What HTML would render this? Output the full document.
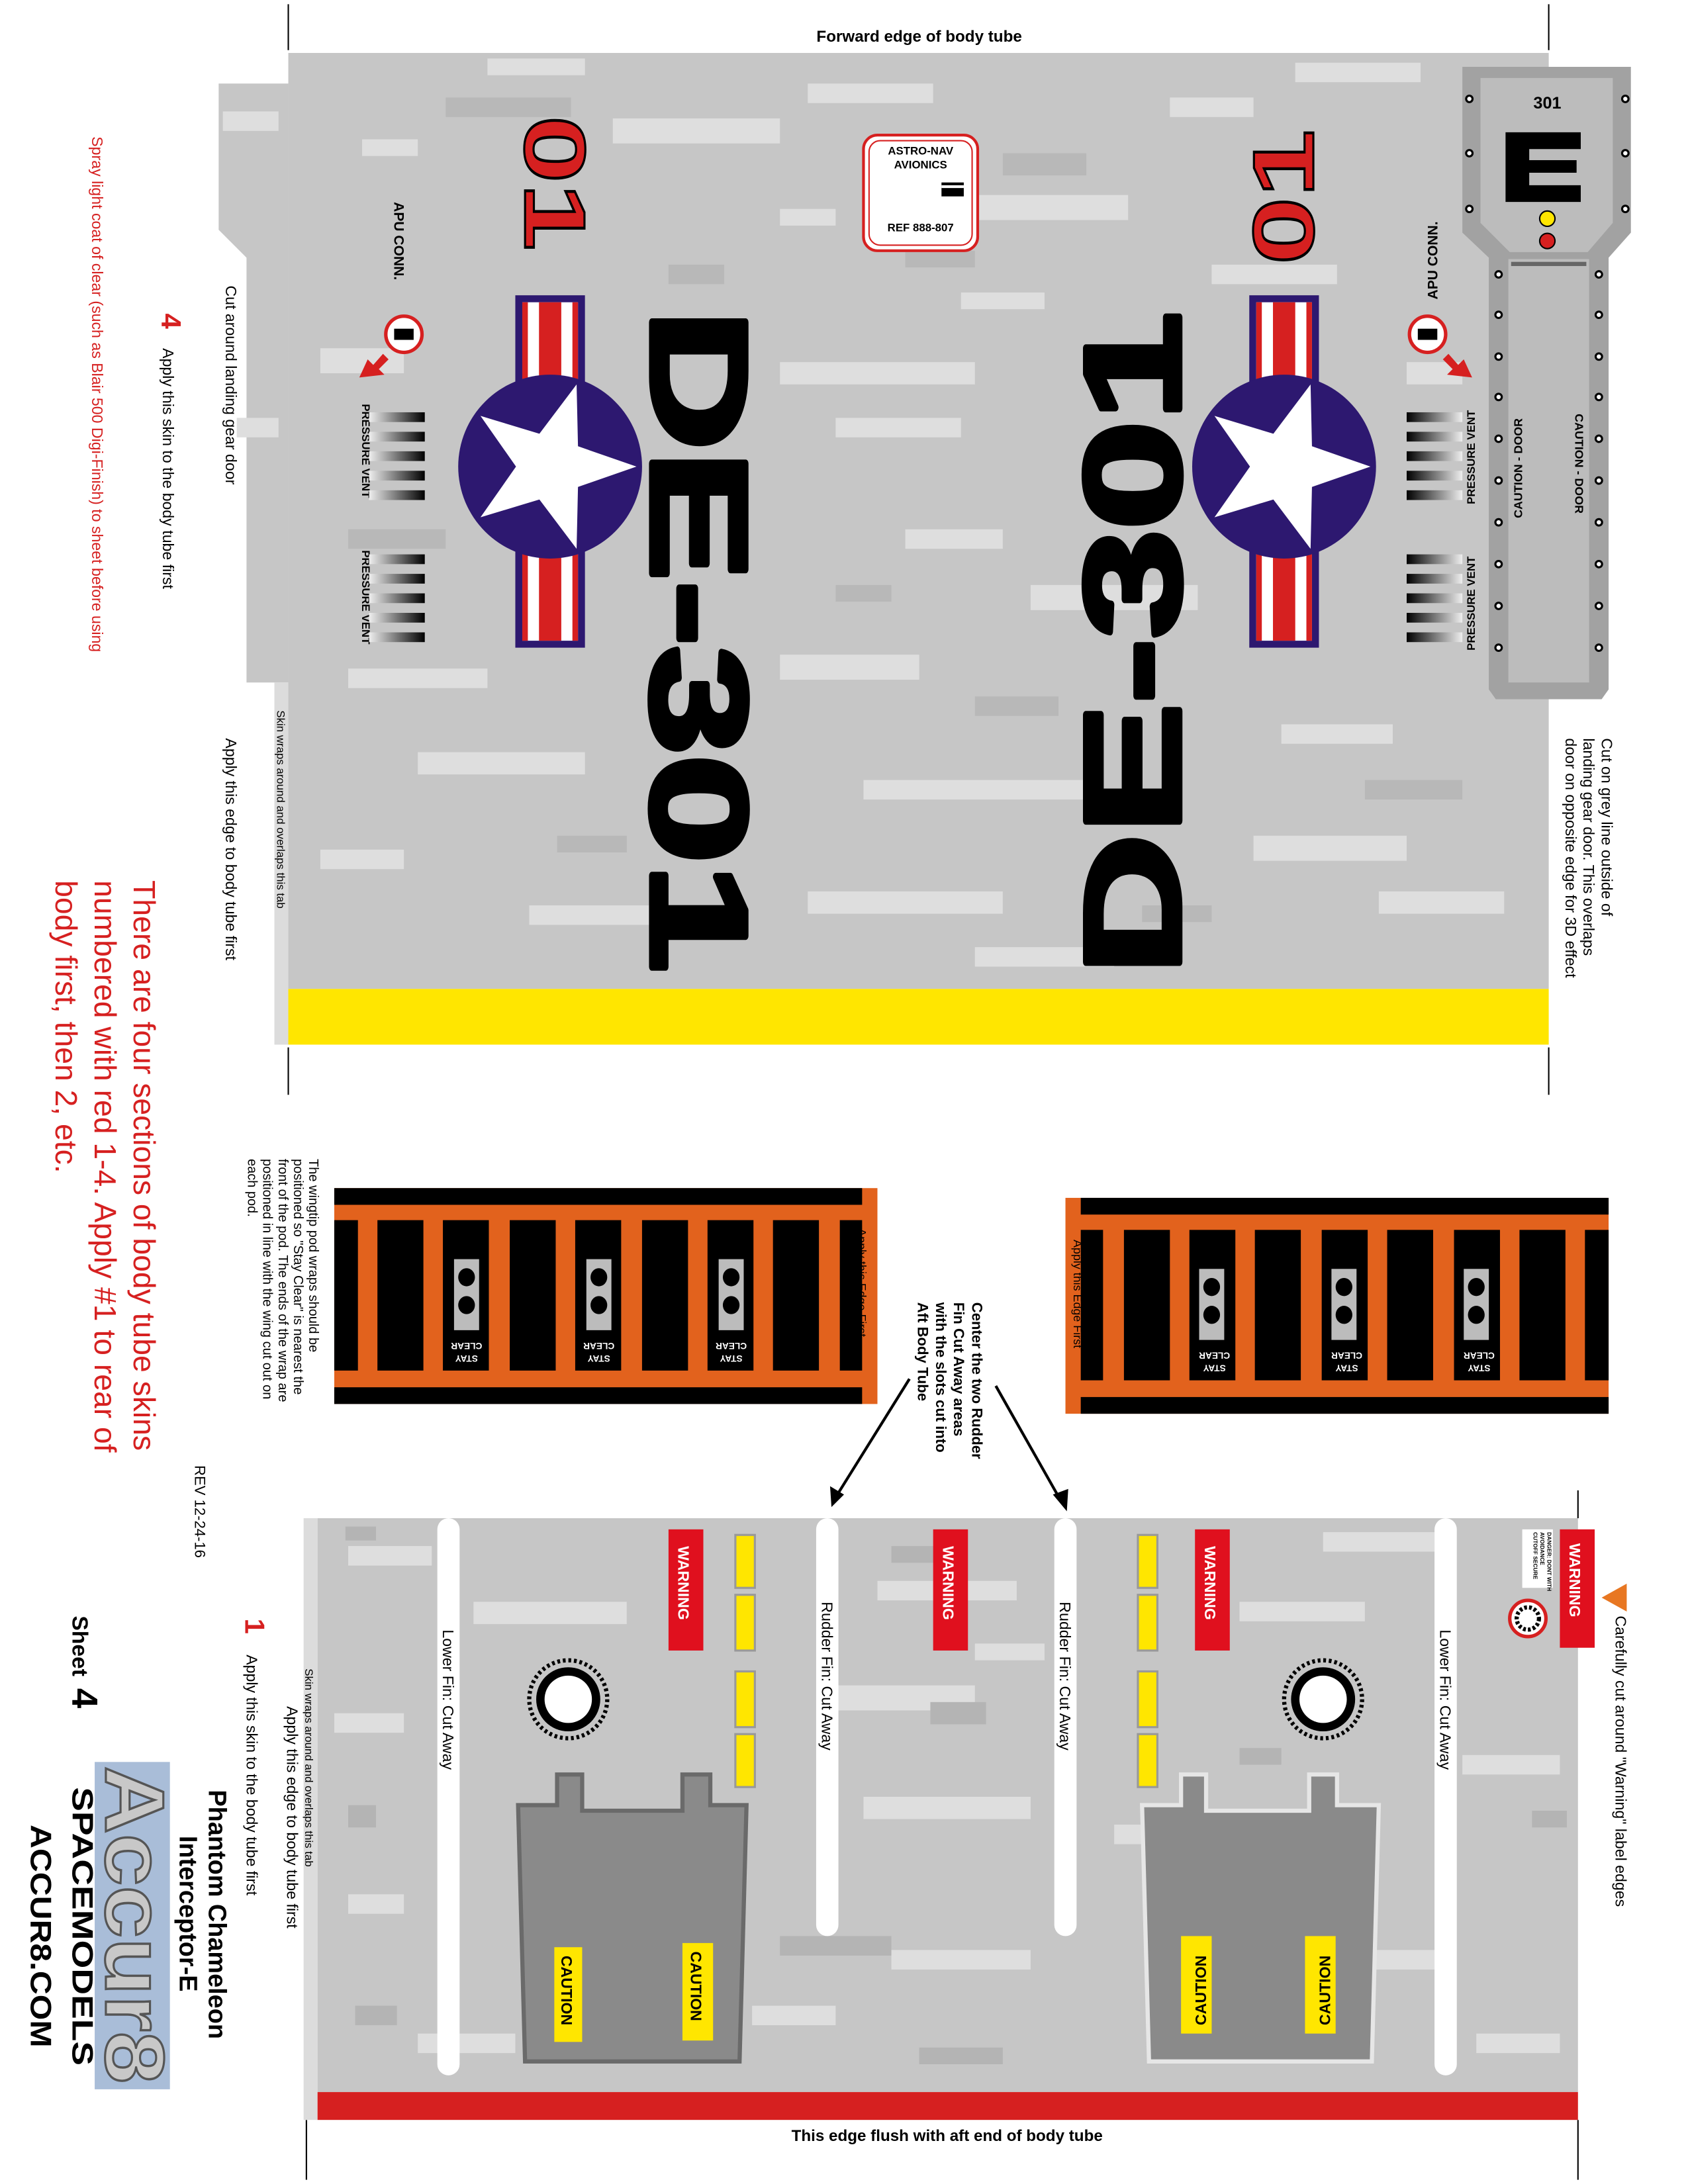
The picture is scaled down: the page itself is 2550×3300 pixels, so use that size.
<!DOCTYPE html>
<html><head><meta charset="utf-8"><style>
html,body{margin:0;padding:0;background:#fff}
svg{display:block}
text{font-family:"Liberation Sans",sans-serif}
</style></head><body>
<svg width="2550" height="3300" viewBox="0 0 1212 1568" preserveAspectRatio="none" xmlns="http://www.w3.org/2000/svg">
<defs>
<linearGradient id="vg" x1="0" x2="1" y1="0" y2="0"><stop offset="0" stop-color="#eee"/><stop offset="1" stop-color="#000"/></linearGradient>
<g id="pod">
<rect x="0" y="0" width="390" height="155" fill="#e2621d"/>
<rect x="0" y="0" width="379" height="12" fill="#000"/>
<rect x="0" y="143" width="379" height="12" fill="#000"/>
<rect x="0" y="23" width="17" height="108" fill="#000"/>
<rect x="31" y="23" width="33" height="108" fill="#000"/>
<rect x="78" y="23" width="33" height="108" fill="#000"/>
<rect x="126" y="23" width="33" height="108" fill="#000"/>
<rect x="173" y="23" width="33" height="108" fill="#000"/>
<rect x="221" y="23" width="33" height="108" fill="#000"/>
<rect x="268" y="23" width="33" height="108" fill="#000"/>
<rect x="315" y="23" width="33" height="108" fill="#000"/>
<rect x="363" y="23" width="16" height="108" fill="#000"/>
<g fill="#bcbcbc"><rect x="86" y="51" width="18" height="51"/><rect x="181" y="51" width="18" height="51"/><rect x="276" y="51" width="18" height="51"/></g>
<g fill="#000"><ellipse cx="95" cy="64" rx="6" ry="6.5"/><ellipse cx="95" cy="84" rx="6" ry="6.5"/><ellipse cx="190" cy="64" rx="6" ry="6.5"/><ellipse cx="190" cy="84" rx="6" ry="6.5"/><ellipse cx="285" cy="64" rx="6" ry="6.5"/><ellipse cx="285" cy="84" rx="6" ry="6.5"/></g>
</g>
<g id="vent"><rect x="0" y="0" width="40" height="7" fill="url(#vg)"/><rect x="0" y="14" width="40" height="7" fill="url(#vg)"/><rect x="0" y="28" width="40" height="7" fill="url(#vg)"/><rect x="0" y="42" width="40" height="7" fill="url(#vg)"/><rect x="0" y="56" width="40" height="7" fill="url(#vg)"/></g>
<g id="roundel">
<rect x="-25" y="-123" width="50" height="253" fill="#2d1870"/>
<rect x="-20" y="-118" width="40" height="243" fill="#fff"/>
<rect x="-8" y="-118" width="16" height="243" fill="#d62020"/>
<rect x="-20" y="-118" width="4" height="243" fill="#d62020"/>
<rect x="16" y="-118" width="4" height="243" fill="#d62020"/>
<circle r="66" fill="#2d1870"/>
<polygon fill="#fff" points="0,-62 14.6,-20 59,-19 23.6,7.7 36.4,50 0,24.5 -36.4,50 -23.6,7.7 -59,-19 -14.6,-20" transform="rotate(90)"/>
</g>
</defs>

<g stroke="#000" stroke-width="1">
<line x1="207" y1="3" x2="207" y2="36"/><line x1="1112" y1="3" x2="1112" y2="36"/>
<line x1="207" y1="752" x2="207" y2="786"/><line x1="1112" y1="752" x2="1112" y2="786"/>
</g>
<text x="660" y="30" font-size="11.5" font-weight="bold" text-anchor="middle">Forward edge of body tube</text>
<polygon points="157,60 207,60 207,490 177,490 177,185 157,165" fill="#c6c6c6"/>
<rect x="197" y="490" width="10" height="260" fill="#dcdcdc"/>
<rect x="207" y="38" width="905" height="672" fill="#c6c6c6"/>
<g fill="#dedede">
<rect x="440" y="85" width="120" height="18"/><rect x="580" y="60" width="90" height="14"/><rect x="260" y="100" width="40" height="12"/><rect x="700" y="140" width="110" height="18"/><rect x="840" y="70" width="60" height="14"/><rect x="230" y="250" width="60" height="18"/><rect x="560" y="260" width="140" height="16"/><rect x="600" y="300" width="90" height="14"/><rect x="740" y="420" width="120" height="18"/><rect x="250" y="480" width="100" height="14"/><rect x="300" y="540" width="120" height="16"/><rect x="560" y="470" width="100" height="18"/><rect x="620" y="560" width="160" height="14"/><rect x="230" y="610" width="60" height="14"/><rect x="580" y="640" width="140" height="16"/><rect x="900" y="600" width="110" height="18"/><rect x="920" y="520" width="80" height="14"/><rect x="1010" y="260" width="40" height="16"/><rect x="870" y="190" width="90" height="14"/><rect x="350" y="42" width="70" height="12"/><rect x="650" y="380" width="70" height="14"/><rect x="380" y="650" width="90" height="14"/><rect x="690" y="210" width="60" height="12"/><rect x="990" y="640" width="90" height="16"/><rect x="930" y="45" width="90" height="14"/><rect x="160" y="80" width="40" height="14"/><rect x="170" y="300" width="30" height="14"/><rect x="560" y="150" width="40" height="12"/><rect x="700" y="680" width="100" height="14"/>
</g>
<g fill="#b8b8b8">
<rect x="320" y="70" width="90" height="14"/><rect x="720" y="110" width="60" height="16"/><rect x="480" y="190" width="40" height="14"/><rect x="650" y="180" width="50" height="12"/><rect x="250" y="380" width="70" height="14"/><rect x="700" y="500" width="60" height="14"/><rect x="820" y="650" width="50" height="12"/><rect x="600" y="420" width="40" height="12"/><rect x="980" y="560" width="70" height="14"/><rect x="400" y="600" width="50" height="12"/>
</g>
<rect x="207" y="710" width="905" height="40" fill="#ffe600"/>

<polygon points="1050,48 1171,48 1171,167 1155,185 1155,495 1150,502 1074,502 1069,495 1069,185 1050,167" fill="#a2a2a2"/>
<polygon points="1063,56 1158,56 1158,160 1140,181 1084,181 1063,160" fill="#bcbcbc"/>
<rect x="1083" y="186" width="58" height="304" fill="#bcbcbc"/>
<rect x="1085" y="188" width="54" height="3" fill="#666"/>
<g fill="#fff" stroke="#000" stroke-width="1.5">
<circle cx="1055" cy="71" r="2.3"/><circle cx="1055" cy="110" r="2.3"/><circle cx="1055" cy="150" r="2.3"/>
<circle cx="1167" cy="71" r="2.3"/><circle cx="1167" cy="110" r="2.3"/><circle cx="1167" cy="150" r="2.3"/>
<circle cx="1076" cy="197" r="2.3"/><circle cx="1076" cy="226" r="2.3"/><circle cx="1076" cy="256" r="2.3"/><circle cx="1076" cy="285" r="2.3"/><circle cx="1076" cy="315" r="2.3"/><circle cx="1076" cy="345" r="2.3"/><circle cx="1076" cy="375" r="2.3"/><circle cx="1076" cy="405" r="2.3"/><circle cx="1076" cy="435" r="2.3"/><circle cx="1076" cy="465" r="2.3"/>
<circle cx="1148" cy="197" r="2.3"/><circle cx="1148" cy="226" r="2.3"/><circle cx="1148" cy="256" r="2.3"/><circle cx="1148" cy="285" r="2.3"/><circle cx="1148" cy="315" r="2.3"/><circle cx="1148" cy="345" r="2.3"/><circle cx="1148" cy="375" r="2.3"/><circle cx="1148" cy="405" r="2.3"/><circle cx="1148" cy="435" r="2.3"/><circle cx="1148" cy="465" r="2.3"/>
</g>
<text x="1111" y="78" font-size="12" font-weight="bold" text-anchor="middle">301</text>
<path d="M1081,95 H1135 V107 H1098 V115 H1132 V124 H1098 V133 H1135 V145 H1081 Z" fill="#000"/>
<circle cx="1111" cy="157" r="5.5" fill="#ffe600" stroke="#000"/>
<circle cx="1111" cy="173" r="5.5" fill="#d62020" stroke="#000"/>
<text transform="translate(1093,372) rotate(-90)" font-size="8.5" font-weight="bold">CAUTION - DOOR</text>
<text transform="translate(1131,297) rotate(90)" font-size="8.5" font-weight="bold">CAUTION - DOOR</text>

<text transform="translate(468,222) rotate(90)" font-size="98" font-weight="bold" stroke="#000" stroke-width="4" stroke-linejoin="round" textLength="476" lengthAdjust="spacingAndGlyphs">DE-301</text>
<text transform="translate(847,700) rotate(-90)" font-size="98" font-weight="bold" stroke="#000" stroke-width="4" stroke-linejoin="round" textLength="476" lengthAdjust="spacingAndGlyphs">DE-301</text>
<text transform="translate(377,83) rotate(90)" font-size="62" font-weight="bold" fill="#d62020" stroke="#000" stroke-width="1.5" textLength="97" lengthAdjust="spacingAndGlyphs">01</text>
<text transform="translate(943,190) rotate(-90)" font-size="62" font-weight="bold" fill="#d62020" stroke="#000" stroke-width="1.5" textLength="97" lengthAdjust="spacingAndGlyphs">01</text>

<use href="#roundel" x="395" y="335"/>
<use href="#roundel" x="922" y="335"/>

<rect x="620" y="97" width="82" height="83" rx="10" fill="#fff" stroke="#d62020" stroke-width="2"/>
<rect x="624" y="101" width="74" height="75" rx="8" fill="none" stroke="#d62020" stroke-width="1"/>
<text x="661" y="111" font-size="8" font-weight="bold" text-anchor="middle">ASTRO-NAV</text>
<text x="661" y="121" font-size="8" font-weight="bold" text-anchor="middle">AVIONICS</text>
<rect x="676" y="131" width="16" height="10" fill="#000"/><rect x="676" y="133" width="16" height="2" fill="#fff"/>
<text x="661" y="166" font-size="8" font-weight="bold" text-anchor="middle">REF 888-807</text>

<text transform="translate(283,145) rotate(90)" font-size="10" font-weight="bold">APU CONN.</text>
<text transform="translate(1032,215) rotate(-90)" font-size="10" font-weight="bold">APU CONN.</text>
<circle cx="290" cy="240" r="13" fill="#fff" stroke="#d62020" stroke-width="2.5"/><rect x="283" y="236" width="14" height="8" fill="#000"/>
<circle cx="1025" cy="240" r="13" fill="#fff" stroke="#d62020" stroke-width="2.5"/><rect x="1018" y="236" width="14" height="8" fill="#000"/>
<polygon points="258,271 264,258 268,262 275,254 279,258 272,265 276,269" fill="#d62020"/>
<polygon points="1057,271 1051,258 1047,262 1040,254 1036,258 1043,265 1039,269" fill="#d62020"/>
<text transform="translate(260,290) rotate(90)" font-size="8" font-weight="bold">PRESSURE VENT</text>
<text transform="translate(260,395) rotate(90)" font-size="8" font-weight="bold">PRESSURE VENT</text>
<use href="#vent" x="265" y="296"/><use href="#vent" x="265" y="398"/>
<text transform="translate(1059,362) rotate(-90)" font-size="8" font-weight="bold">PRESSURE VENT</text>
<text transform="translate(1059,467) rotate(-90)" font-size="8" font-weight="bold">PRESSURE VENT</text>
<g transform="translate(1050,0) scale(-1,1)"><use href="#vent" x="0" y="296"/><use href="#vent" x="0" y="398"/></g>

<text transform="translate(162,205) rotate(90)" font-size="11">Cut around landing gear door</text>
<text transform="translate(116,225) rotate(90)" font-size="20" font-weight="bold" fill="#d62020">4</text>
<text transform="translate(117,250) rotate(90)" font-size="11">Apply this skin to the body tube first</text>
<text transform="translate(66,98) rotate(90)" font-size="11" fill="#d62020">Spray light coat of clear (such as Blair 500 Digi-Finish) to sheet before using</text>
<text transform="translate(162,530) rotate(90)" font-size="11">Apply this edge to body tube first</text>
<text transform="translate(199,510) rotate(90)" font-size="8">Skin wraps around and overlaps this tab</text>
<text transform="translate(1150,530) rotate(90)" font-size="11">Cut on grey line outside of</text>
<text transform="translate(1137,530) rotate(90)" font-size="11">landing gear door. This overlaps</text>
<text transform="translate(1124,530) rotate(90)" font-size="11">door on opposite edge for 3D effect</text>
<text transform="translate(96,632) rotate(90)" font-size="22" fill="#d62020">There are four sections of body tube skins</text>
<text transform="translate(68,632) rotate(90)" font-size="22" fill="#d62020">numbered with red 1-4. Apply #1 to rear of</text>
<text transform="translate(40,632) rotate(90)" font-size="22" fill="#d62020">body first, then 2, etc.</text>

<use href="#pod" x="240" y="853"/>
<g transform="translate(1155,860) scale(-1,1)"><use href="#pod"/></g>
<g font-size="6.5" font-weight="bold" fill="#fff" text-anchor="middle">
<text transform="translate(335,964) rotate(180)">CLEAR</text><text transform="translate(335,973) rotate(180)">STAY</text>
<text transform="translate(430,964) rotate(180)">CLEAR</text><text transform="translate(430,973) rotate(180)">STAY</text>
<text transform="translate(525,964) rotate(180)">CLEAR</text><text transform="translate(525,973) rotate(180)">STAY</text>
<text transform="translate(872,971) rotate(180)">CLEAR</text><text transform="translate(872,980) rotate(180)">STAY</text>
<text transform="translate(967,971) rotate(180)">CLEAR</text><text transform="translate(967,980) rotate(180)">STAY</text>
<text transform="translate(1062,971) rotate(180)">CLEAR</text><text transform="translate(1062,980) rotate(180)">STAY</text>
</g>
<text transform="translate(616,882) rotate(90)" font-size="8.5">Apply this Edge First</text>
<text transform="translate(771,890) rotate(90)" font-size="8.5">Apply this Edge First</text>
<g font-size="9.5">
<text transform="translate(222,832) rotate(90)">The wingtip pod wraps should be</text>
<text transform="translate(211,832) rotate(90)">positioned so "Stay Clear" is nearest the</text>
<text transform="translate(200,832) rotate(90)">front of the pod. The ends of the wrap are</text>
<text transform="translate(189,832) rotate(90)">positioned in line with the wing cut out on</text>
<text transform="translate(178,832) rotate(90)">each pod.</text>
</g>
<g font-size="10.5" font-weight="bold">
<text transform="translate(698,935) rotate(90)">Center the two Rudder</text>
<text transform="translate(685,935) rotate(90)">Fin Cut Away areas</text>
<text transform="translate(672,935) rotate(90)">with the slots cut into</text>
<text transform="translate(659,935) rotate(90)">Aft Body Tube</text>
</g>
<g stroke="#000" stroke-width="2"><line x1="653" y1="990" x2="600" y2="1075"/><line x1="715" y1="995" x2="762" y2="1078"/></g>
<polygon points="597,1082 596,1067 606,1073" fill="#000"/>
<polygon points="766,1085 756,1073 767,1069" fill="#000"/>
<text transform="translate(140,1052) rotate(90)" font-size="10.5">REV 12-24-16</text>

<g stroke="#000" stroke-width="1">
<line x1="220" y1="1090" x2="220" y2="1125"/><line x1="1133" y1="1070" x2="1133" y2="1090"/>
<line x1="220" y1="1522" x2="220" y2="1565"/><line x1="1133" y1="1522" x2="1133" y2="1565"/>
</g>
<rect x="218" y="1090" width="10" height="432" fill="#dcdcdc"/>
<rect x="228" y="1090" width="905" height="412" fill="#c6c6c6"/>
<g fill="#dedede">
<rect x="250" y="1110" width="60" height="14"/><rect x="340" y="1150" width="110" height="16"/><rect x="630" y="1135" width="100" height="14"/><rect x="890" y="1150" width="90" height="14"/><rect x="240" y="1230" width="50" height="14"/><rect x="600" y="1210" width="100" height="18"/><rect x="800" y="1310" width="50" height="14"/><rect x="250" y="1360" width="40" height="14"/><rect x="620" y="1290" width="120" height="16"/><rect x="1050" y="1260" width="70" height="14"/><rect x="980" y="1400" width="60" height="14"/><rect x="540" y="1440" width="60" height="14"/><rect x="640" y="1400" width="100" height="14"/><rect x="300" y="1460" width="70" height="14"/><rect x="1060" y="1460" width="60" height="14"/><rect x="700" y="1180" width="50" height="12"/><rect x="950" y="1100" width="80" height="14"/>
</g>
<g fill="#b4b4b4">
<rect x="248" y="1096" width="22" height="10"/><rect x="640" y="1110" width="40" height="12"/><rect x="668" y="1222" width="40" height="16"/><rect x="560" y="1390" width="80" height="14"/><rect x="250" y="1296" width="20" height="16"/><rect x="660" y="1470" width="60" height="12"/><rect x="1100" y="1300" width="25" height="12"/><rect x="890" y="1255" width="30" height="12"/><rect x="255" y="1440" width="30" height="14"/>
</g>
<rect x="228" y="1502" width="905" height="20" fill="#d62020"/>
<text x="680" y="1537" font-size="11.5" font-weight="bold" text-anchor="middle">This edge flush with aft end of body tube</text>

<g fill="#fff">
<rect x="314" y="1090" width="16" height="400" rx="8"/>
<rect x="586" y="1090" width="16" height="300" rx="8"/>
<rect x="757" y="1090" width="16" height="300" rx="8"/>
<rect x="1030" y="1090" width="16" height="400" rx="8"/>
</g>
<text transform="translate(318,1170) rotate(90)" font-size="11">Lower Fin: Cut Away</text>
<text transform="translate(590,1150) rotate(90)" font-size="11">Rudder Fin: Cut Away</text>
<text transform="translate(761,1150) rotate(90)" font-size="11">Rudder Fin: Cut Away</text>
<text transform="translate(1034,1170) rotate(90)" font-size="11">Lower Fin: Cut Away</text>

<g fill="#ffe600" stroke="#999" stroke-width="1.5">
<rect x="528" y="1102" width="14" height="38"/><rect x="528" y="1145" width="14" height="40"/><rect x="528" y="1200" width="14" height="40"/><rect x="528" y="1245" width="14" height="38"/>
<rect x="817" y="1102" width="14" height="38"/><rect x="817" y="1145" width="14" height="40"/><rect x="817" y="1200" width="14" height="40"/><rect x="817" y="1245" width="14" height="38"/>
</g>
<g fill="#e0101e">
<rect x="480" y="1098" width="25" height="87"/><rect x="670" y="1098" width="25" height="87"/><rect x="858" y="1098" width="25" height="87"/><rect x="1120" y="1098" width="25" height="85"/>
</g>
<g font-size="11" font-weight="bold" fill="#fff">
<text transform="translate(487,1110) rotate(90)">WARNING</text>
<text transform="translate(677,1110) rotate(90)">WARNING</text>
<text transform="translate(865,1110) rotate(90)">WARNING</text>
<text transform="translate(1127,1108) rotate(90)">WARNING</text>
</g>
<rect x="1093" y="1098" width="22" height="42" fill="#fff"/>
<g font-size="4" font-weight="bold"><text transform="translate(1111,1100) rotate(90)">DANGER: DONT WITH</text><text transform="translate(1106,1100) rotate(90)">AVOIDANCE</text><text transform="translate(1101,1100) rotate(90)">CUTOFF SECURE</text></g>
<circle cx="1097" cy="1162" r="13" fill="#fff" stroke="#d62020" stroke-width="2.5"/>
<circle cx="1097" cy="1162" r="8" fill="#fff" stroke="#000" stroke-width="3" stroke-dasharray="2 1.5"/>
<polygon points="1150,1147 1168,1137 1168,1157" fill="#e87722"/>
<text transform="translate(1160,1160) rotate(90)" font-size="11">Carefully cut around "Warning" label edges</text>

<g>
<circle cx="408" cy="1220" r="28" fill="none" stroke="#000" stroke-width="3" stroke-dasharray="2 2"/>
<circle cx="408" cy="1220" r="23" fill="#000"/><circle cx="408" cy="1220" r="17" fill="#fff"/>
<circle cx="950" cy="1220" r="28" fill="none" stroke="#000" stroke-width="3" stroke-dasharray="2 2"/>
<circle cx="950" cy="1220" r="23" fill="#000"/><circle cx="950" cy="1220" r="17" fill="#fff"/>
</g>
<polygon points="372,1296 400,1296 400,1274 418,1274 418,1300 490,1300 490,1274 510,1274 510,1296 536,1296 531,1480 377,1480" fill="#8a8a8a" stroke="#6a6a6a" stroke-width="3"/>
<polygon points="820,1296 848,1296 848,1274 866,1274 866,1300 940,1300 940,1274 960,1274 960,1296 990,1296 985,1480 825,1480" fill="#8a8a8a" stroke="#e6e6e6" stroke-width="3"/>
<g fill="#ffe600"><rect x="398" y="1398" width="20" height="68"/><rect x="490" y="1395" width="22" height="70"/><rect x="848" y="1390" width="22" height="70"/><rect x="937" y="1390" width="22" height="70"/></g>
<g font-size="11" font-weight="bold">
<text transform="translate(403,1404) rotate(90)">CAUTION</text><text transform="translate(496,1401) rotate(90)">CAUTION</text>
<text transform="translate(866,1454) rotate(-90)">CAUTION</text><text transform="translate(955,1454) rotate(-90)">CAUTION</text>
</g>

<text transform="translate(176,1162) rotate(90)" font-size="20" font-weight="bold" fill="#d62020">1</text>
<text transform="translate(177,1188) rotate(90)" font-size="11">Apply this skin to the body tube first</text>
<text transform="translate(219,1198) rotate(90)" font-size="8">Skin wraps around and overlaps this tab</text>
<text transform="translate(206,1225) rotate(90)" font-size="11">Apply this edge to body tube first</text>

<text transform="translate(52,1160) rotate(90)" font-size="16" font-weight="bold">Sheet</text>
<text transform="translate(52,1212) rotate(90)" font-size="26" font-weight="bold">4</text>
<text transform="translate(150,1285) rotate(90)" font-size="18" font-weight="bold">Phantom Chameleon</text>
<text transform="translate(129,1318) rotate(90)" font-size="18" font-weight="bold">Interceptor-E</text>
<rect x="68" y="1265" width="54" height="235" fill="#a9bdd8"/>
<text transform="translate(76,1268) rotate(90)" font-size="60" font-weight="bold" fill="#c8c8c8" stroke="#555" stroke-width="1.5" textLength="228" lengthAdjust="spacingAndGlyphs">Accur8</text>
<text transform="translate(52,1283) rotate(90)" font-size="21" font-weight="bold" textLength="200" lengthAdjust="spacingAndGlyphs">SPACEMODELS</text>
<text transform="translate(22,1310) rotate(90)" font-size="21" font-weight="bold" textLength="160" lengthAdjust="spacingAndGlyphs">ACCUR8.COM</text>
</svg>
</body></html>
